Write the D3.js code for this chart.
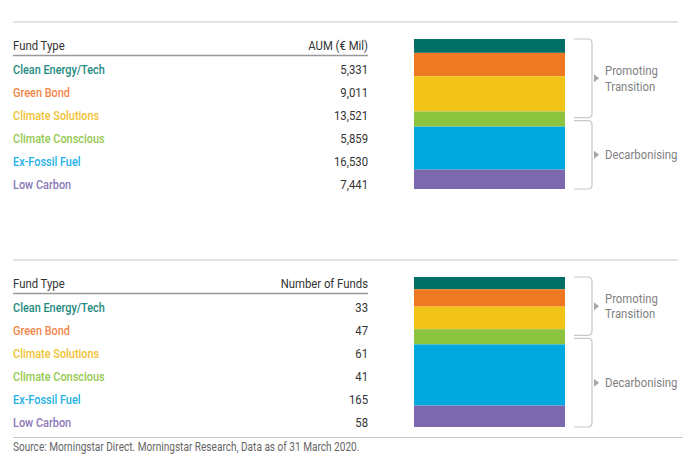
<!DOCTYPE html>
<html><head><meta charset="utf-8">
<script src="https://cdn.jsdelivr.net/npm/d3@7/dist/d3.min.js"></script>
<style>
body{margin:0;background:#fff;}
text{font-family:Roboto,"DejaVu Sans",sans-serif;}
</style></head><body>
<svg id="c" width="693" height="468"></svg>
<script>
const categories = ["Clean Energy/Tech","Green Bond","Climate Solutions","Climate Conscious","Ex-Fossil Fuel","Low Carbon"];
const aum = [5331, 9011, 13521, 5859, 16530, 7441];
const funds = [33, 47, 61, 41, 165, 58];
const barColors = ["#006F65","#EF7823","#F2C417","#8CC43F","#00A8E0","#7B68AD"];
const labelColors = ["#1E8A80","#F2874A","#F0C232","#95C94F","#22B0E6","#8A78B8"];
const groups = ["Promoting\nTransition","Decarbonising"];
const headers = [["Fund Type","AUM (€ Mil)"],["Fund Type","Number of Funds"]];
const sourceText = "Source: Morningstar Direct. Morningstar Research, Data as of 31 March 2020.";

const svg = d3.select("#c");
const fmt = d3.format(",");
const SX = 0.84; // emulate a condensed face

function txt(g, x, y, s, opts={}){
  const t = g.append("text").attr("transform",`translate(${x},${y}) scale(${SX},1)`)
    .attr("font-size",opts.size||12.5).attr("fill",opts.fill||"#333").text(s);
  if(opts.anchor) t.attr("text-anchor",opts.anchor);
  if(opts.weight) t.attr("font-weight",opts.weight);
  return t;
}

function panel(y0, values, hdr){
  const g = svg.append("g");
  g.append("line").attr("x1",13).attr("x2",678).attr("y1",y0).attr("y2",y0).attr("stroke","#d9d9d9").attr("stroke-width",1.5);
  const hy = y0 + 27.5;
  txt(g,13,hy,hdr[0],{size:13.5});
  txt(g,368,hy,hdr[1],{size:13.5,anchor:"end"});
  g.append("line").attr("x1",13).attr("x2",368).attr("y1",y0+33.5).attr("y2",y0+33.5).attr("stroke","#999").attr("stroke-width",1.5);
  const rowY = d3.scalePoint().domain(categories).range([y0+47, y0+162]);
  categories.forEach((c,i)=>{
    txt(g,13,rowY(c)+4.5,c,{size:13,weight:"500",fill:labelColors[i]});
    txt(g,368,rowY(c)+4.5,fmt(values[i]),{size:13.5,anchor:"end"});
  });
  const total = d3.sum(values);
  const barTop = y0 + 17, barH = 150;
  const y = d3.scaleLinear().domain([0,total]).range([barTop, barTop+barH]);
  const cum = d3.cumsum(values);
  const starts = values.map((v,i)=>cum[i]-v);
  g.selectAll("rect.seg").data(values).join("rect")
    .attr("x",414).attr("width",151)
    .attr("y",(d,i)=>y(starts[i])).attr("height",(d,i)=>y(cum[i])-y(starts[i]))
    .attr("fill",(d,i)=>barColors[i]);
  const split = y((starts[3]+cum[3])/2);
  const bx0 = 574, bx1 = 592, r = 4;
  const braces = [[barTop, split-1.5],[split+1.5, barTop+barH]];
  braces.forEach((b,k)=>{
    const [t,bt] = b;
    g.append("path").attr("d",`M${bx0},${t}H${bx1-r}Q${bx1},${t} ${bx1},${t+r}V${bt-r}Q${bx1},${bt} ${bx1-r},${bt}H${bx0}`)
      .attr("fill","none").attr("stroke","#c8c8c8").attr("stroke-width",1.2);
    const my = (t+bt)/2;
    g.append("path").attr("d",`M594,${my-4}L599,${my}L594,${my+4}Z`).attr("fill","#a6a6a6");
    const lines = groups[k].split("\n");
    lines.forEach((ln,j)=>{
      txt(g,605,my + 4.5 + (j - (lines.length-1)/2)*15.5,ln,{size:13.5,fill:"#7f7f7f"});
    });
  });
}
panel(22, aum, headers[0]);
panel(260, funds, headers[1]);
svg.append("line").attr("x1",13).attr("x2",683).attr("y1",437.5).attr("y2",437.5).attr("stroke","#c8c8c8").attr("stroke-width",1.2);
txt(svg,13,451,sourceText,{size:12,fill:"#666"});
</script></body></html>
